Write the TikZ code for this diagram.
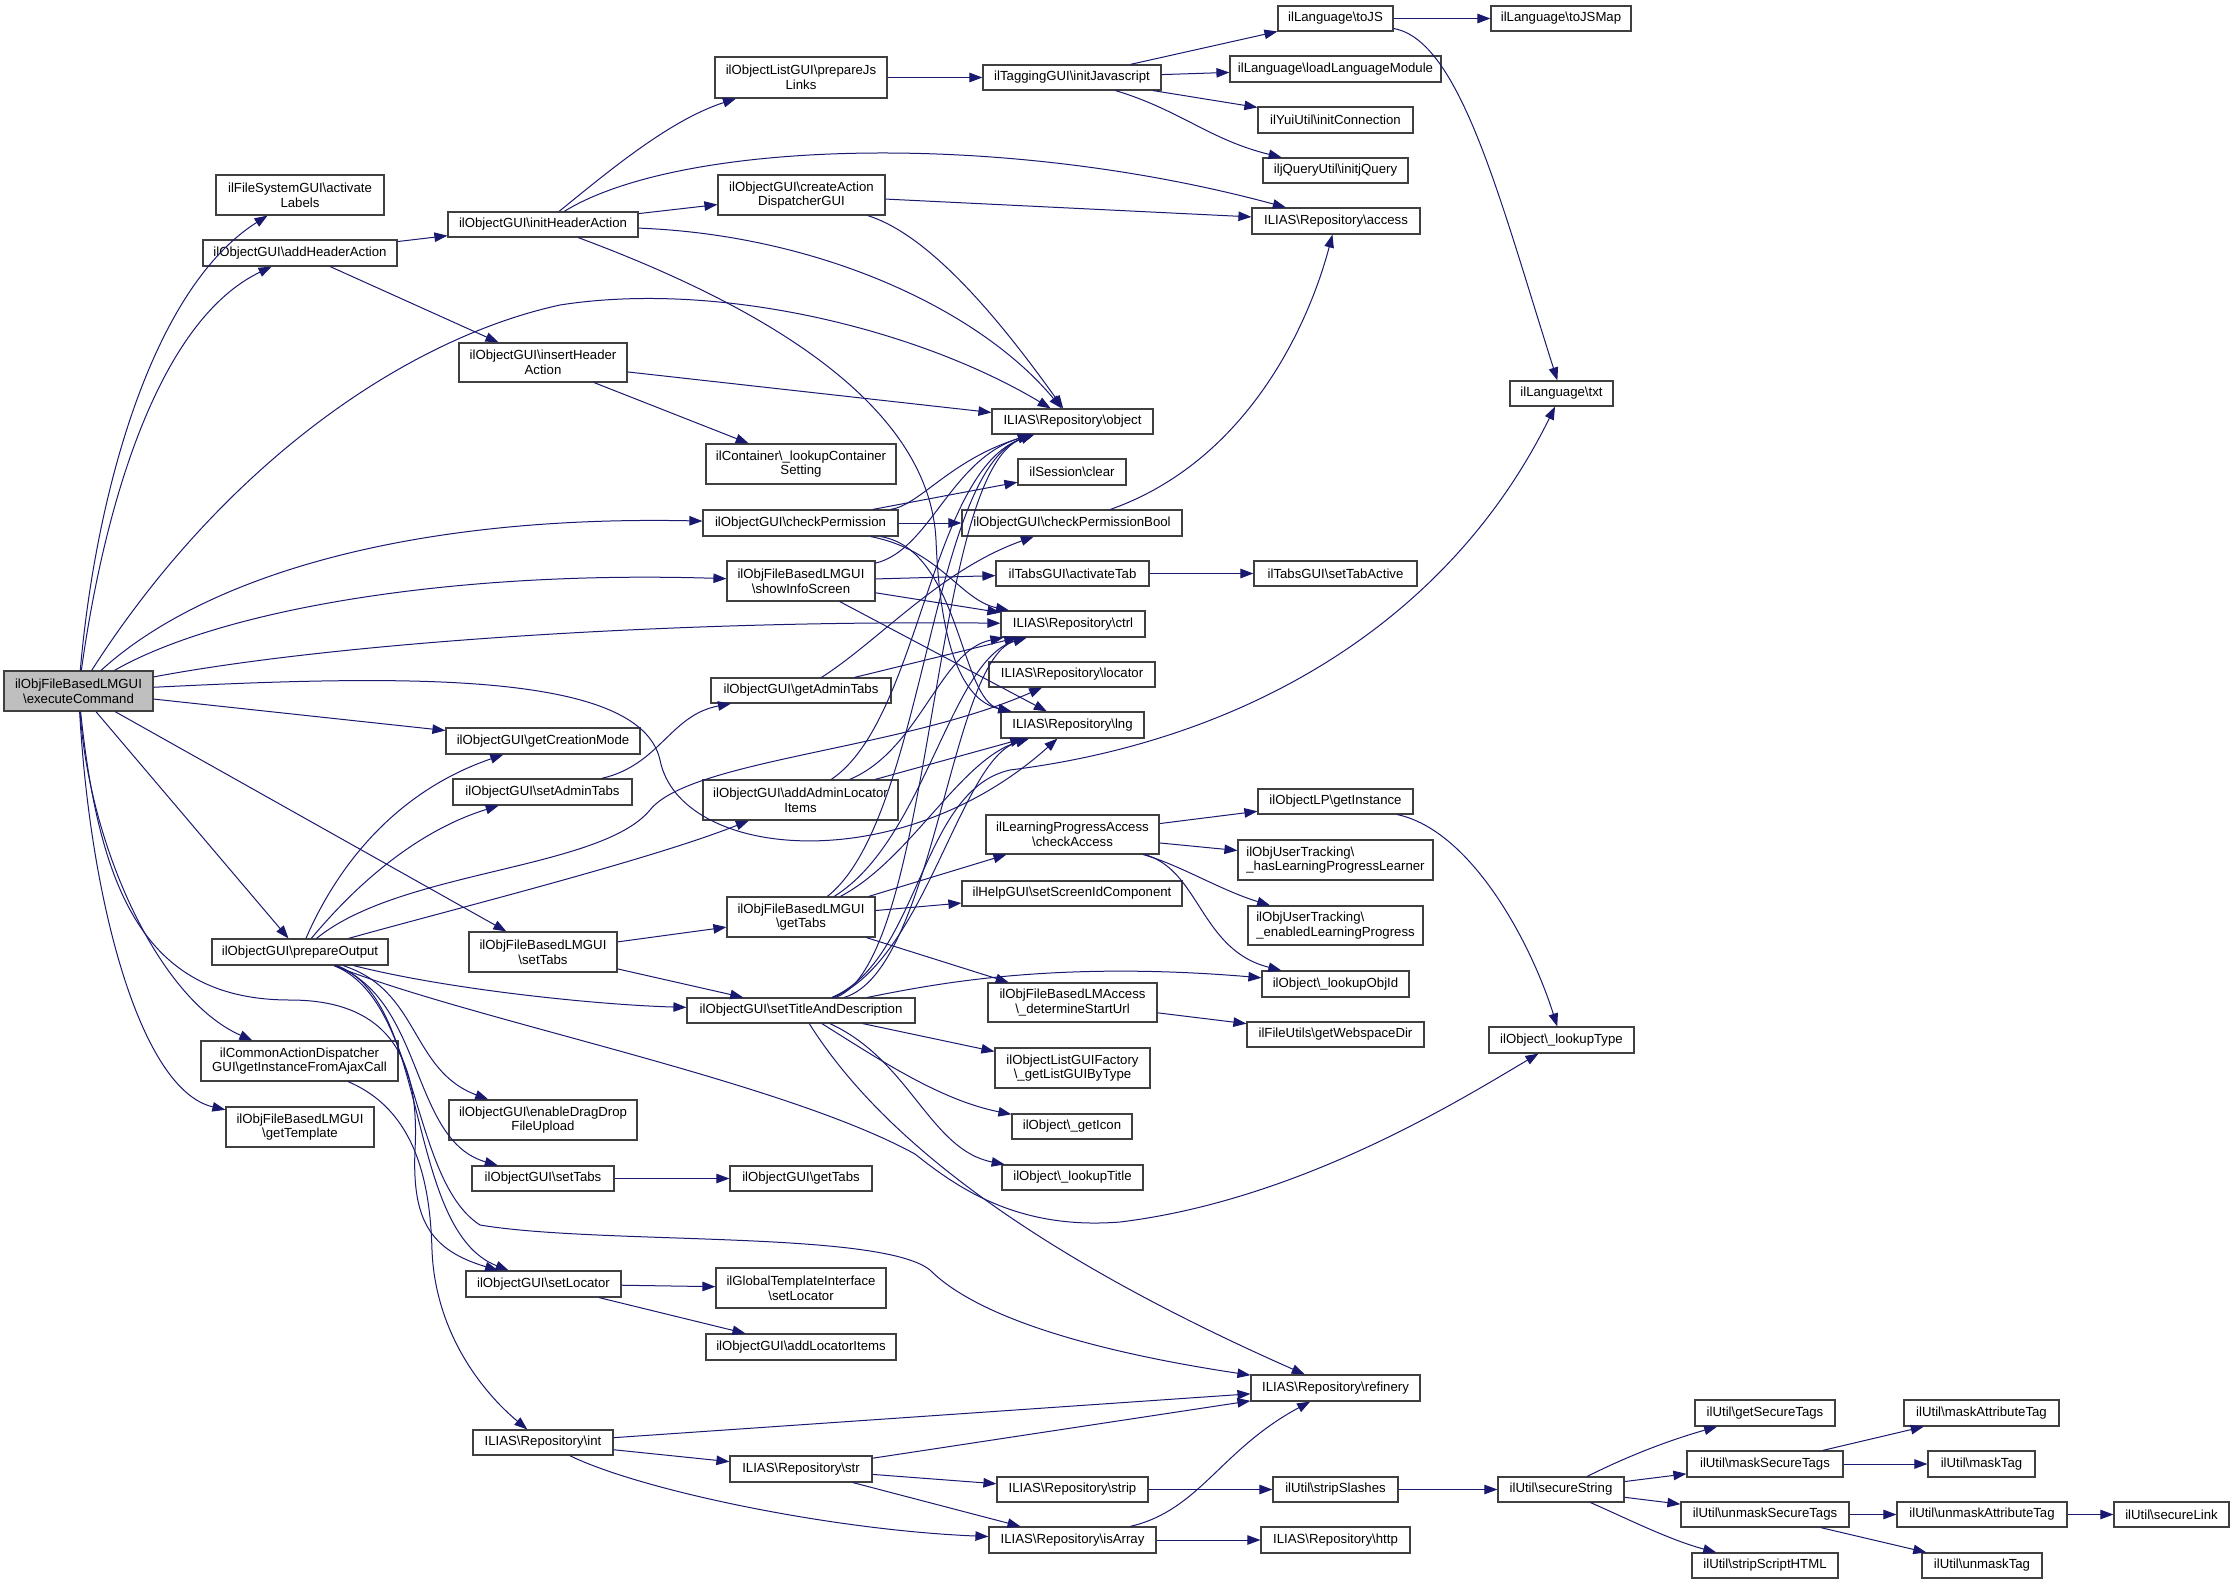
\documentclass[tikz,border=0pt]{standalone}
\usepackage{fontspec}
\setmainfont{Liberation Sans}
\usetikzlibrary{arrows.meta}
\definecolor{edgec}{HTML}{191970}
\definecolor{boxc}{HTML}{404040}
\newcommand{\BS}{\textbackslash}
\tikzset{
  nbox/.style={draw=boxc, line width=1.2pt, fill=white, inner sep=0pt, align=center,
    font=\fontsize{13.2}{14.6}\selectfont},
  ed/.style={draw=edgec, line width=1pt, -{Triangle[length=13pt,width=9.5pt]}}
}
\newcommand{\bx}[7][]{\node[nbox,#1,minimum width={#4pt-#2pt},minimum height={#5pt-#3pt}] (#6) at ({(#2+#4)/2},{(#3+#5)/2}) {#7};}
\begin{document}
\begin{tikzpicture}[x=1pt,y=-1pt]
\useasboundingbox[fill=white] (0,0) rectangle (2235,1584);
% nodes
\bx[fill=black!25]{4}{671}{153}{711}{E}{ilObjFileBasedLMGUI\\\BS executeCommand}
\bx{216}{175}{384}{215}{AL}{ilFileSystemGUI\BS activate\\Labels}
\bx{203}{240}{397}{266}{AHA}{ilObjectGUI\BS addHeaderAction}
\bx{448}{212}{638}{237}{IHA}{ilObjectGUI\BS initHeaderAction}
\bx{459}{343}{627}{382}{INS}{ilObjectGUI\BS insertHeader\\Action}
\bx{715}{57}{887}{98}{PJL}{ilObjectListGUI\BS prepareJs\\Links}
\bx{983}{65}{1161}{90}{IJ}{ilTaggingGUI\BS initJavascript}
\bx{718}{175}{885}{215}{CAD}{ilObjectGUI\BS createAction\\DispatcherGUI}
\bx{706}{444}{896}{484}{LCS}{ilContainer\BS\_lookupContainer\\Setting}
\bx{703}{510}{898}{536}{CP}{ilObjectGUI\BS checkPermission}
\bx{992}{409}{1153}{434}{OBJ}{ILIAS\BS Repository\BS object}
\bx{1018}{459}{1126}{485}{CLR}{ilSession\BS clear}
\bx{962}{510}{1182}{536}{CPB}{ilObjectGUI\BS checkPermissionBool}
\bx{1278}{6}{1393}{31}{TJ}{ilLanguage\BS toJS}
\bx{1491}{6}{1631}{31}{TJM}{ilLanguage\BS toJSMap}
\bx{1230}{56}{1441}{82}{LLM}{ilLanguage\BS loadLanguageModule}
\bx{1258}{107}{1413}{133}{ICN}{ilYuiUtil\BS initConnection}
\bx{1263}{158}{1408}{183}{IJQ}{iljQueryUtil\BS initjQuery}
\bx{1252}{208}{1420}{234}{ACC}{ILIAS\BS Repository\BS access}
\bx{1510}{381}{1613}{406}{TXT}{ilLanguage\BS txt}
\bx{446}{728}{640}{754}{GCM}{ilObjectGUI\BS getCreationMode}
\bx{453}{779}{632}{805}{SAT}{ilObjectGUI\BS setAdminTabs}
\bx{212}{939}{388}{965}{PO}{ilObjectGUI\BS prepareOutput}
\bx{469}{932}{617}{972}{LST}{ilObjFileBasedLMGUI\\\BS setTabs}
\bx{201}{1041}{398}{1081}{GIA}{ilCommonActionDispatcher\\GUI\BS getInstanceFromAjaxCall}
\bx{727}{561}{875}{601}{SIS}{ilObjFileBasedLMGUI\\\BS showInfoScreen}
\bx{1001}{611}{1145}{637}{CTRL}{ILIAS\BS Repository\BS ctrl}
\bx{996}{561}{1149}{586}{AT}{ilTabsGUI\BS activateTab}
\bx{711}{678}{891}{703}{GAT}{ilObjectGUI\BS getAdminTabs}
\bx{989}{662}{1155}{687}{LOC}{ILIAS\BS Repository\BS locator}
\bx{1001}{712}{1144}{738}{LNG}{ILIAS\BS Repository\BS lng}
\bx{703}{780}{898}{820}{AALI}{ilObjectGUI\BS addAdminLocator\\Items}
\bx{986}{815}{1159}{854}{CA}{ilLearningProgressAccess\\\BS checkAccess}
\bx{962}{881}{1182}{906}{SSIC}{ilHelpGUI\BS setScreenIdComponent}
\bx{727}{897}{875}{937}{LGT}{ilObjFileBasedLMGUI\\\BS getTabs}
\bx{988}{983}{1157}{1022}{DSU}{ilObjFileBasedLMAccess\\\BS\_determineStartUrl}
\bx{687}{998}{915}{1023}{STD}{ilObjectGUI\BS setTitleAndDescription}
\bx{995}{1048}{1150}{1088}{GLG}{ilObjectListGUIFactory\\\BS\_getListGUIByType}
\bx{1254}{561}{1417}{586}{STA}{ilTabsGUI\BS setTabActive}
\bx{1258}{789}{1413}{814}{GI}{ilObjectLP\BS getInstance}
\bx[align=left]{1238}{840}{1433}{880}{HLP}{ilObjUserTracking\BS\\\_hasLearningProgressLearner}
\bx[align=left]{1248}{906}{1423}{945}{ELP}{ilObjUserTracking\BS\\\_enabledLearningProgress}
\bx{1262}{971}{1409}{997}{LOI}{ilObject\BS\_lookupObjId}
\bx{1247}{1022}{1424}{1047}{GWD}{ilFileUtils\BS getWebspaceDir}
\bx{1489}{1027}{1634}{1053}{LTY}{ilObject\BS\_lookupType}
\bx{226}{1107}{374}{1147}{GT}{ilObjFileBasedLMGUI\\\BS getTemplate}
\bx{449}{1100}{637}{1140}{EDD}{ilObjectGUI\BS enableDragDrop\\FileUpload}
\bx{472}{1166}{614}{1191}{OST}{ilObjectGUI\BS setTabs}
\bx{466}{1271}{621}{1297}{SL}{ilObjectGUI\BS setLocator}
\bx{473}{1430}{613}{1455}{INT}{ILIAS\BS Repository\BS int}
\bx{730}{1166}{872}{1191}{OGT}{ilObjectGUI\BS getTabs}
\bx{1012}{1114}{1132}{1139}{GIC}{ilObject\BS\_getIcon}
\bx{1002}{1165}{1143}{1190}{LTI}{ilObject\BS\_lookupTitle}
\bx{716}{1268}{886}{1308}{GSL}{ilGlobalTemplateInterface\\\BS setLocator}
\bx{706}{1334}{896}{1360}{ALI}{ilObjectGUI\BS addLocatorItems}
\bx{730}{1456}{872}{1482}{STR}{ILIAS\BS Repository\BS str}
\bx{997}{1477}{1148}{1502}{STRP}{ILIAS\BS Repository\BS strip}
\bx{989}{1527}{1156}{1553}{ISA}{ILIAS\BS Repository\BS isArray}
\bx{1251}{1375}{1420}{1401}{REF}{ILIAS\BS Repository\BS refinery}
\bx{1273}{1477}{1398}{1502}{SSL}{ilUtil\BS stripSlashes}
\bx{1261}{1527}{1410}{1553}{HTTP}{ILIAS\BS Repository\BS http}
\bx{1498}{1477}{1624}{1502}{SS}{ilUtil\BS secureString}
\bx{1695}{1400}{1835}{1426}{GST}{ilUtil\BS getSecureTags}
\bx{1687}{1451}{1843}{1477}{MST}{ilUtil\BS maskSecureTags}
\bx{1681}{1502}{1849}{1527}{UST}{ilUtil\BS unmaskSecureTags}
\bx{1692}{1553}{1838}{1578}{SSH}{ilUtil\BS stripScriptHTML}
\bx{1904}{1400}{2059}{1426}{MAT}{ilUtil\BS maskAttributeTag}
\bx{1928}{1451}{2035}{1477}{MT}{ilUtil\BS maskTag}
\bx{1897}{1502}{2067}{1527}{UAT}{ilUtil\BS unmaskAttributeTag}
\bx{2114}{1502}{2229}{1527}{SLK}{ilUtil\BS secureLink}
\bx{1922}{1553}{2042}{1578}{UT}{ilUtil\BS unmaskTag}
% edges from executeCommand
\draw[ed] (E) .. controls (95,500) and (150,290) .. (AL);
\draw[ed] (E) .. controls (105,500) and (160,320) .. (AHA);
\draw[ed] (E) .. controls (220,470) and (400,340) .. (560,305) .. controls (720,280) and (920,330) .. (OBJ);
\draw[ed] (E) .. controls (200,580) and (400,515) .. (CP);
\draw[ed] (E) .. controls (220,610) and (450,570) .. (SIS);
\draw[ed] (E) .. controls (350,640) and (700,620) .. (CTRL);
\draw[ed] (E) .. controls (400,675) and (640,670) .. (660,760) .. controls (680,860) and (900,880) .. (LNG);
\draw[ed] (E) -- (GCM);
\draw[ed] (E) -- (PO);
\draw[ed] (E) -- (LST);
\draw[ed] (E) .. controls (90,850) and (160,1000) .. (GIA);
\draw[ed] (E) .. controls (90,900) and (140,1090) .. (GT);
\draw[ed] (E) .. controls (100,900) and (150,1000) .. (290,1000) .. controls (390,1000) and (420,1060) .. (415,1150) .. controls (412,1220) and (430,1250) .. (SL);
% header actions
\draw[ed] (AHA) -- (IHA);
\draw[ed] (AHA) -- (INS);
\draw[ed] (IHA) .. controls (610,170) and (670,120) .. (PJL);
\draw[ed] (IHA) .. controls (680,140) and (1000,130) .. (ACC);
\draw[ed] (IHA) -- (CAD);
\draw[ed] (IHA) .. controls (820,235) and (980,310) .. (OBJ);
\draw[ed] (IHA) .. controls (800,320) and (930,420) .. (936,540) .. controls (940,640) and (960,700) .. (LNG);
\draw[ed] (PJL) -- (IJ);
\draw[ed] (IJ) -- (TJ);
\draw[ed] (IJ) -- (LLM);
\draw[ed] (IJ) -- (ICN);
\draw[ed] (IJ) .. controls (1180,110) and (1210,140) .. (IJQ);
\draw[ed] (TJ) -- (TJM);
\draw[ed] (TJ) .. controls (1460,40) and (1500,200) .. (TXT);
\draw[ed] (CAD) -- (ACC);
\draw[ed] (CAD) .. controls (930,235) and (1000,320) .. (OBJ);
\draw[ed] (INS) -- (OBJ);
\draw[ed] (INS) -- (LCS);
% permissions
\draw[ed] (CP) .. controls (920,505) and (950,460) .. (OBJ);
\draw[ed] (CP) -- (CLR);
\draw[ed] (CP) -- (CPB);
\draw[ed] (CP) .. controls (940,550) and (960,600) .. (CTRL);
\draw[ed] (CP) .. controls (960,550) and (960,700) .. (LNG);
\draw[ed] (CPB) .. controls (1250,460) and (1310,320) .. (ACC);
\draw[ed] (SIS) .. controls (930,550) and (950,460) .. (OBJ);
\draw[ed] (SIS) -- (AT);
\draw[ed] (SIS) -- (CTRL);
\draw[ed] (SIS) -- (LNG);
\draw[ed] (AT) -- (STA);
\draw[ed] (GAT) .. controls (880,640) and (940,570) .. (CPB);
\draw[ed] (GAT) -- (CTRL);
\draw[ed] (SAT) .. controls (660,765) and (670,715) .. (GAT);
\draw[ed] (AALI) .. controls (920,720) and (930,470) .. (OBJ);
\draw[ed] (AALI) .. controls (920,750) and (940,650) .. (CTRL);
\draw[ed] (AALI) -- (LNG);
% prepareOutput
\draw[ed] (PO) .. controls (340,860) and (400,790) .. (GCM);
\draw[ed] (PO) .. controls (360,880) and (420,830) .. (SAT);
\draw[ed] (PO) .. controls (400,870) and (600,870) .. (650,810) .. controls (690,760) and (900,750) .. (LOC);
\draw[ed] (PO) .. controls (450,910) and (650,860) .. (AALI);
\draw[ed] (PO) .. controls (450,990) and (600,1005) .. (STD);
\draw[ed] (PO) .. controls (470,1020) and (780,1080) .. (915,1154) .. controls (960,1190) and (1020,1230) .. (1120,1222) .. controls (1300,1200) and (1460,1100) .. (LTY);
\draw[ed] (PO) .. controls (420,990) and (410,1070) .. (EDD);
\draw[ed] (PO) .. controls (425,1000) and (410,1140) .. (OST);
\draw[ed] (PO) .. controls (430,1000) and (405,1230) .. (SL);
\draw[ed] (PO) .. controls (420,1000) and (410,1180) .. (480,1225) .. controls (600,1245) and (880,1230) .. (930,1270) .. controls (990,1330) and (1150,1360) .. (REF);
% tabs
\draw[ed] (LST) -- (LGT);
\draw[ed] (LST) -- (STD);
\draw[ed] (LGT) .. controls (925,820) and (930,470) .. (OBJ);
\draw[ed] (LGT) .. controls (925,840) and (950,660) .. (CTRL);
\draw[ed] (LGT) .. controls (910,860) and (960,760) .. (LNG);
\draw[ed] (LGT) -- (CA);
\draw[ed] (LGT) -- (SSIC);
\draw[ed] (LGT) -- (DSU);
\draw[ed] (STD) .. controls (935,960) and (930,470) .. (OBJ);
\draw[ed] (STD) .. controls (935,970) and (950,660) .. (CTRL);
\draw[ed] (STD) .. controls (925,960) and (960,760) .. (LNG);
\draw[ed] (STD) .. controls (920,960) and (920,790) .. (1010,770) .. controls (1250,740) and (1450,620) .. (TXT);
\draw[ed] (STD) .. controls (930,985) and (1050,960) .. (LOI);
\draw[ed] (STD) -- (GLG);
\draw[ed] (STD) .. controls (880,1060) and (940,1100) .. (GIC);
\draw[ed] (STD) .. controls (910,1060) and (930,1150) .. (LTI);
\draw[ed] (STD) .. controls (870,1120) and (1000,1240) .. (REF);
\draw[ed] (CA) -- (GI);
\draw[ed] (CA) -- (HLP);
\draw[ed] (CA) .. controls (1180,865) and (1220,890) .. (ELP);
\draw[ed] (CA) .. controls (1200,870) and (1200,950) .. (LOI);
\draw[ed] (GI) .. controls (1470,830) and (1530,940) .. (LTY);
\draw[ed] (DSU) -- (GWD);
% lower part
\draw[ed] (GIA) .. controls (415,1110) and (430,1180) .. (432,1250) .. controls (435,1330) and (480,1390) .. (INT);
\draw[ed] (OST) -- (OGT);
\draw[ed] (SL) -- (GSL);
\draw[ed] (SL) -- (ALI);
\draw[ed] (INT) -- (REF);
\draw[ed] (INT) -- (STR);
\draw[ed] (INT) .. controls (640,1490) and (830,1530) .. (ISA);
\draw[ed] (STR) -- (REF);
\draw[ed] (STR) -- (STRP);
\draw[ed] (STR) -- (ISA);
\draw[ed] (STRP) -- (SSL);
\draw[ed] (ISA) .. controls (1200,1510) and (1220,1450) .. (REF);
\draw[ed] (ISA) -- (HTTP);
\draw[ed] (SSL) -- (SS);
\draw[ed] (SS) .. controls (1630,1455) and (1670,1440) .. (GST);
\draw[ed] (SS) -- (MST);
\draw[ed] (SS) -- (UST);
\draw[ed] (SS) .. controls (1630,1520) and (1670,1540) .. (SSH);
\draw[ed] (MST) -- (MAT);
\draw[ed] (MST) -- (MT);
\draw[ed] (UST) -- (UAT);
\draw[ed] (UST) -- (UT);
\draw[ed] (UAT) -- (SLK);
\end{tikzpicture}
\end{document}
